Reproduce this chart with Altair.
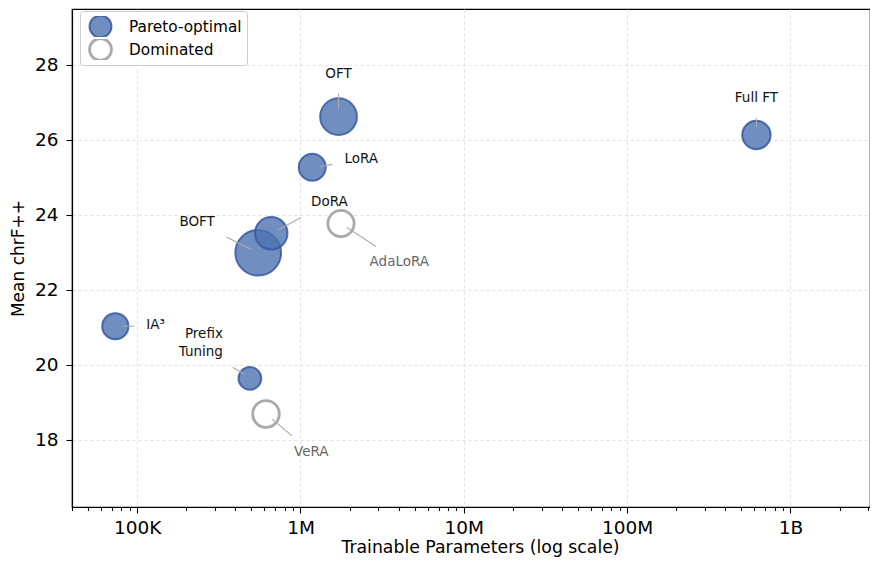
import math
import altair as alt
import pandas as pd

# ---------------- data ----------------
methods = ["IA³", "Prefix\nTuning", "VeRA", "BOFT", "DoRA", "AdaLoRA", "LoRA", "OFT", "Full FT"]
params = [73.5e3, 490e3, 615e3, 551e3, 662e3, 1.77e6, 1.18e6, 1.71e6, 619e6]
chrf = [21.03, 19.64, 18.69, 22.99, 23.51, 23.77, 25.27, 26.62, 26.13]
status = ["Pareto-optimal", "Pareto-optimal", "Dominated", "Pareto-optimal", "Pareto-optimal",
          "Dominated", "Pareto-optimal", "Pareto-optimal", "Pareto-optimal"]
bubble = [688, 515, 707, 2091, 1052, 688, 726, 1346, 804]

# annotation placement (pixel offsets from the point: label anchor, leader line start/end)
label_align = ["left", "right", "center", "center", "center", "center", "left", "center", "center"]
label_off = [(31, -1), (-27, -44), (45.3, 37.5), (-61.1, -31), (58.2, -31), (58.3, 38),
             (32.2, -8), (0, -42.5), (0, -37.5)]
line_off = [((7.5, 0), (19.2, 0)), ((-17.2, -11.2), (-5.5, -4.2)), ((6, 4.8), (26, 21.8)),
            ((-31.8, -15.8), (-6.5, -3.1)), ((7.3, -3.5), (29.7, -15.8)), ((6, 4), (35, 23)),
            ((7.2, -0.5), (19.9, -2.9)), ((0, -23), (0, -7.3)), ((0, -16.7), (0, -7.7))]

x_tick_labels = {100000: "100K", 1000000: "1M", 10000000: "10M", 100000000: "100M", 1000000000: "1B"}
y_ticks = [18, 20, 22, 24, 26, 28]

# ---------------- layout ----------------
W, H = 798, 498
X_DOM = [39900, 3.07e9]
Y_DOM = [16.21, 29.49]
PX_DEC = W / (math.log10(X_DOM[1]) - math.log10(X_DOM[0]))
PX_UNIT = H / (Y_DOM[1] - Y_DOM[0])


def shift(x, y, dx, dy):
    return x * 10 ** (dx / PX_DEC), y - dy / PX_UNIT


rows = []
for i, m in enumerate(methods):
    lx, ly = shift(params[i], chrf[i], *label_off[i])
    (a, b) = line_off[i]
    x1, y1 = shift(params[i], chrf[i], *a)
    x2, y2 = shift(params[i], chrf[i], *b)
    rows.append(dict(method=m, params=params[i], chrf=chrf[i], status=status[i], bubble=bubble[i],
                     align=label_align[i], lx=lx, ly=ly, x1=x1, y1=y1, x2=x2, y2=y2,
                     tcolor="#111111" if status[i] == "Pareto-optimal" else "#666666"))
df = pd.DataFrame(rows)

major = list(x_tick_labels.keys())
xvals = [m * 10 ** e for e in range(4, 10) for m in range(1, 10)
         if X_DOM[0] <= m * 10 ** e <= X_DOM[1]]
label_expr = " : ".join(f"datum.value == {k} ? '{v}'" for k, v in x_tick_labels.items()) + " : ''"
major_test = f"indexof({major}, datum.value) >= 0"

xscale = alt.Scale(type="log", domain=X_DOM, nice=False)
yscale = alt.Scale(domain=Y_DOM, nice=False, zero=False)

xaxis = alt.Axis(values=xvals, labelExpr=label_expr, title="Trainable Parameters (log scale)",
                 tickSize={"condition": {"test": major_test, "value": 6}, "value": 3.5},
                 gridOpacity={"condition": {"test": major_test, "value": 1}, "value": 0},
                 labelFontSize=18.5, titleFontSize=17.3, labelPadding=5, titlePadding=2,
                 titleX=408, labelFlush=False)
yaxis = alt.Axis(values=y_ticks, title="Mean chrF++", tickSize=6, labelFontSize=18.5,
                 titleFontSize=17, labelPadding=8, titlePadding=7)

base = alt.Chart(df)

points = base.mark_circle(opacity=1).encode(
    x=alt.X("params:Q", scale=xscale, axis=xaxis),
    y=alt.Y("chrf:Q", scale=yscale, axis=yaxis),
    size=alt.Size("bubble:Q", scale=None, legend=None),
    fill=alt.Fill("status:N", sort=["Pareto-optimal", "Dominated"],
                  scale=alt.Scale(domain=["Pareto-optimal", "Dominated"],
                                  range=["rgba(76,114,176,0.8)", "white"]),
                  legend=alt.Legend(title=None, orient="none", legendX=8, legendY=2,
                                    symbolType="circle", symbolSize=480, symbolStrokeWidth=2.5,
                                    labelFontSize=15.3, labelOffset=16, clipHeight=21,
                                    padding=5, symbolOffset=3,
                                    strokeColor="#cccccc", fillColor="rgba(255,255,255,0.85)",
                                    cornerRadius=3)),
    stroke=alt.Stroke("status:N", sort=["Pareto-optimal", "Dominated"],
                      scale=alt.Scale(domain=["Pareto-optimal", "Dominated"],
                                      range=["rgba(55,88,160,0.85)", "#aaaaaa"]),
                      legend=alt.Legend(title=None)),
    strokeWidth=alt.StrokeWidth("status:N", scale=alt.Scale(domain=["Pareto-optimal", "Dominated"],
                                                            range=[2, 2.8]), legend=None),
    order=alt.Order("idx:Q"),
).transform_window(idx="row_number()")

lines = base.mark_rule(color="#aaaaaa", strokeWidth=1.1).encode(
    x=alt.X("x1:Q", scale=xscale), y=alt.Y("y1:Q", scale=yscale),
    x2="x2:Q", y2="y2:Q")


def text_layer(al):
    return base.transform_filter(alt.datum.align == al).mark_text(
        align=al, baseline="middle", fontSize=13.5, lineBreak="\n", lineHeight=17.5
    ).encode(
        x=alt.X("lx:Q", scale=xscale), y=alt.Y("ly:Q", scale=yscale),
        text="method:N", color=alt.Color("tcolor:N", scale=None))


chart = alt.layer(points, lines, text_layer("left"), text_layer("center"), text_layer("right")).properties(
    width=W, height=H,
    autosize=alt.AutoSizeParams(type="none"),
    padding={"left": 64, "top": 1, "right": 0, "bottom": 52},
).configure(font="DejaVu Sans").configure_view(
    stroke="black", strokeWidth=1.2
).configure_axis(
    domainColor="black", domainWidth=1.2, tickColor="black", tickWidth=1.1,
    labelColor="black", titleColor="black", titleFontWeight="normal",
    gridColor="#d9d9d9", gridDash=[3, 3], gridWidth=0.8,
).configure_legend(labelColor="black")

chart.save("out.html", embed_options={"renderer": "svg", "actions": False})
